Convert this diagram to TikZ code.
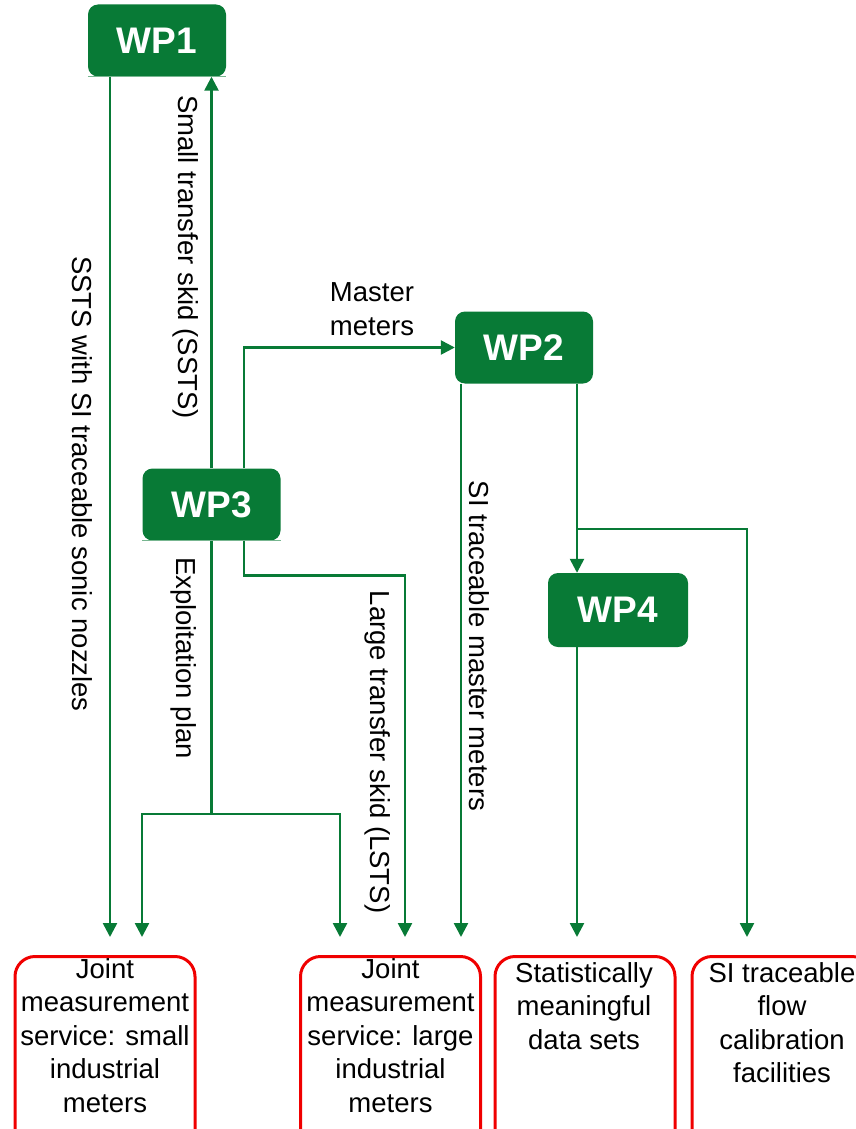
\documentclass[tikz,border=0pt]{standalone}
\usepackage{fontspec}
\setmainfont{Liberation Sans}
\usetikzlibrary{arrows.meta,calc}
\definecolor{wpgreen}{RGB}{8,122,54}
\definecolor{outred}{RGB}{240,0,0}
\begin{document}
\begin{tikzpicture}[x=1pt,y=-1pt,
  wpbox/.style={fill=wpgreen, draw=none, rounded corners=10pt, text=white,
    font=\fontsize{37}{40}\selectfont\bfseries, minimum width=138pt, minimum height=72pt, inner sep=0pt},
  conn/.style={draw=wpgreen, line width=2.5pt},
  arr/.style={conn, -{Triangle[width=14pt,length=14pt]}},
  edge/.style={draw=wpgreen!55, line width=1pt},
  lbl/.style={font=\fontsize{27.5}{33.5}\selectfont, inner sep=0pt},
  outbox/.style={draw=outred, line width=3pt, rounded corners=20pt, minimum width=180pt,
    minimum height=220pt, anchor=north, inner sep=0pt},
  outtext/.style={lbl, align=center, anchor=north}
]
\useasboundingbox (0,0) rectangle (856,1129);
\clip (0,0) rectangle (856,1129);

% work packages
\node[wpbox] (wp1) at (157,40.5) {WP1};
\node[wpbox] (wp3) at (211.5,504.5) {WP3};
\node[wpbox] (wp2) at (524,347.5) {WP2};
\node[wpbox, minimum width=140pt, minimum height=74pt] (wp4) at (618,610) {WP4};
\draw[edge] (wp1.south west) -- (wp1.south east);
\draw[edge] (wp3.south west) -- (wp3.south east);

% outcome boxes
\node[outbox] (o1) at (105,955) {};
\node[outtext] (t1) at (105,958) {Joint\\measurement\\service: small\\industrial\\meters};
\node[outbox] (o2) at (390.5,955) {};
\node[outtext] (t2) at (390.5,958) {Joint\\measurement\\service: large\\industrial\\meters};
\node[outbox] (o3) at (585,955) {};
\node[outtext] (t3) at (584,962) {Statistically\\meaningful\\data sets};
\node[outbox] (o4) at (782,955) {};
\node[outtext] (t4) at (782,962) {SI traceable\\flow\\calibration\\facilities};

% labels
\node[lbl, rotate=-90] (l1) at (82,484) {SSTS with SI traceable sonic nozzles};
\node[lbl, rotate=-90] (l2) at (186,257) {Small transfer skid (SSTS)};
\node[lbl, rotate=-90] (l3) at (184,658) {Exploitation plan};
\node[lbl, rotate=-90] (l4) at (378,752) {Large transfer skid (LSTS)};
\node[lbl, rotate=-90] (l5) at (479,646) {SI traceable master meters};
\node[lbl, align=center] (l6) at (372,309) {Master\\meters};

% free ends and junctions
\coordinate (e1) at (110,937);
\coordinate (e2) at (142,937);
\coordinate (e3) at (340,937);
\coordinate (e4) at (405,937);
\coordinate (e5) at (461,937);
\coordinate (e6) at (747,937);
\coordinate (e7) at (577,937);
\coordinate (j1) at (211.5,814);
\coordinate (j2) at (577,529);

% connectors
\draw[arr] ($(wp1.south)+(-47,0)$) -- (e1);
\draw[arr] (wp3.north) -- (wp3.north |- wp1.south);
\draw[conn] (wp3.south) -- (j1);
\draw[arr] (j1) -| (e2);
\draw[arr] (j1) -| (e3);
\draw[arr] ($(wp3.north)+(32.5,0)$) |- (wp2.west);
\draw[arr] ($(wp3.south)+(32.5,0)$) -- ++(0,35) -| (e4);
\draw[arr] ($(wp2.south)+(-63,0)$) -- (e5);
\draw[arr] ($(wp2.south)+(53,0)$) -- (wp4.north -| j2);
\draw[arr] (j2) -| (e6);
\draw[arr] (wp4.south -| j2) -- (e7);
\end{tikzpicture}
\end{document}
